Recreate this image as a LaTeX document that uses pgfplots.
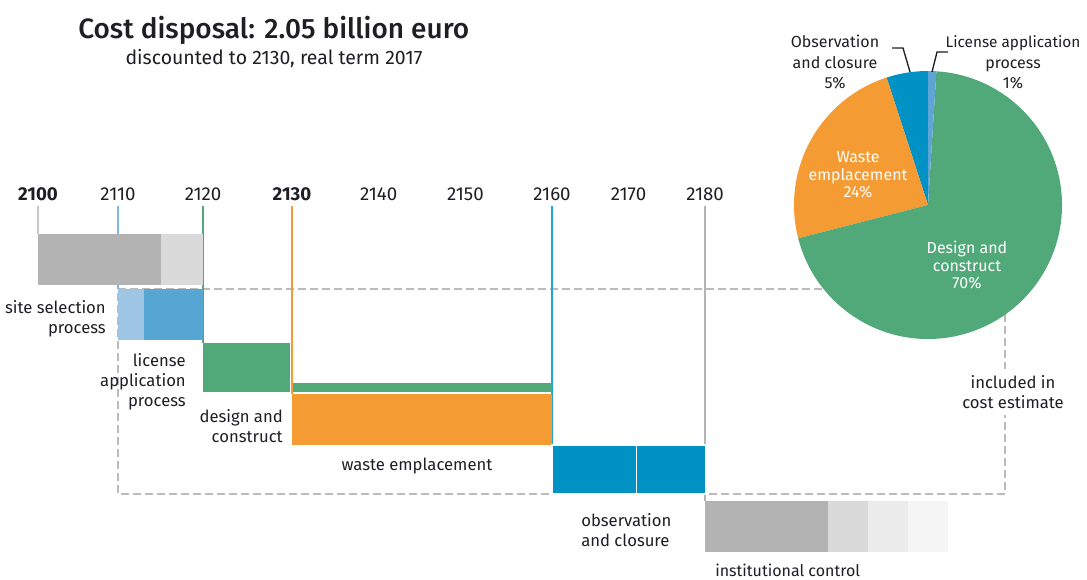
\documentclass[border=0pt]{standalone}
\usepackage{fontspec}
\setmainfont{Fira Sans}
\newfontfamily\titlefont{Fira Sans Medium}
\usepackage{pgfplots}
\pgfplotsset{compat=1.18}
\definecolor{txt}{HTML}{1E1E24}
\definecolor{gdark}{HTML}{B3B3B3}
\definecolor{glight}{HTML}{DADADA}
\definecolor{glighter}{HTML}{ECECEC}
\definecolor{glightest}{HTML}{F5F5F5}
\definecolor{blight}{HTML}{9FC5E4}
\definecolor{bmid}{HTML}{56A6D3}
\definecolor{green}{HTML}{51A878}
\definecolor{orange}{HTML}{F49B34}
\definecolor{bobs}{HTML}{0092C5}
\definecolor{l2100}{HTML}{C8C8C8}
\definecolor{l2110}{HTML}{7CB8DF}
\definecolor{l2160}{HTML}{1FA5D8}
\definecolor{l2180}{HTML}{B4B4B4}
\definecolor{dashc}{HTML}{BBBBBB}
\definecolor{pielic}{HTML}{5EA5D6}
\begin{document}
\begin{tikzpicture}[font=\fontsize{12.5pt}{15pt}\selectfont, text=txt]
\path[use as bounding box] (0,0) rectangle (815.25pt,-434.25pt);
% ---------------- timeline ----------------
% the original time scale is drawn piecewise (decades of unequal length)
\begin{axis}[at={(407.625pt,-217.125pt)}, anchor=center,
  width=815.25pt, height=434.25pt, scale only axis, hide axis, clip=false,
  x coord trafo/.code={\pgfmathparse{#1<=2110 ? 38+(#1-2100)*8 : (#1<=2120 ? 118+(#1-2110)*8.5 : (#1<=2130 ? 203+(#1-2120)*8.9 : (#1<=2160 ? 292+(#1-2130)*8.6667 : 552+(#1-2160)*7.65)))}},
  xmin=2095.25, xmax=2229.93, ymin=0, ymax=579, y dir=reverse]
% frame "included in cost estimate"
\addplot[dashc, line width=1.1pt, dash pattern=on 6pt off 3pt] coordinates {(2110,289) (2219.2,289) (2219.2,494) (2110,494)} -- cycle;
% year lines
\addplot[l2100, line width=1.1pt] coordinates {(2100,206) (2100,234)};
\addplot[l2110, line width=1.1pt] coordinates {(2110,206) (2110,289)};
\addplot[green, line width=1.1pt] coordinates {(2120,206) (2120,343)};
\addplot[l2160, line width=1.1pt] coordinates {(2160,206) (2160,445)};
\addplot[l2180, line width=1.1pt] coordinates {(2180,206) (2180,501)};
% site selection
\addplot[fill=gdark, draw=none] coordinates {(2100,234) (2115,234) (2115,285) (2100,285)} -- cycle;
\addplot[fill=glight, draw=none] coordinates {(2115,234) (2120,234) (2120,285) (2115,285)} -- cycle;
% license application
\addplot[fill=blight, draw=none] coordinates {(2110,289) (2113,289) (2113,340) (2110,340)} -- cycle;
\addplot[fill=bmid, draw=none] coordinates {(2113,289) (2120,289) (2120,340) (2113,340)} -- cycle;
% design and construct
\addplot[fill=green, draw=none] coordinates {(2120,343) (2129.8,343) (2129.8,392) (2120,392)} -- cycle;
\addplot[fill=green, draw=none] coordinates {(2130,383) (2160,383) (2160,392) (2130,392)} -- cycle;
% waste emplacement
\addplot[fill=orange, draw=none] coordinates {(2130,394) (2160,394) (2160,445) (2130,445)} -- cycle;
% 2130 line on top
\addplot[orange, line width=1.1pt] coordinates {(2130,206) (2130,394)};
% observation and closure
\addplot[fill=bobs, draw=white, line width=0.8pt] coordinates {(2160,445) (2171,445) (2171,494) (2160,494)} -- cycle;
\addplot[fill=bobs, draw=white, line width=0.8pt] coordinates {(2171,445) (2180,445) (2180,494) (2171,494)} -- cycle;
% institutional control
\addplot[fill=gdark, draw=none] coordinates {(2180,501) (2196.1,501) (2196.1,552) (2180,552)} -- cycle;
\addplot[fill=glight, draw=none] coordinates {(2196.1,501) (2201.3,501) (2201.3,552) (2196.1,552)} -- cycle;
\addplot[fill=glighter, draw=none] coordinates {(2201.3,501) (2206.5,501) (2206.5,552) (2201.3,552)} -- cycle;
\addplot[fill=glightest, draw=none] coordinates {(2206.5,501) (2211.8,501) (2211.8,552) (2206.5,552)} -- cycle;
% year labels
\begin{scope}[every node/.style={anchor=base, font=\fontsize{14pt}{16pt}\selectfont}]
\node at (axis cs:2100,200) {\bfseries 2100};
\node at (axis cs:2110,200) {2110};
\node at (axis cs:2120,200) {2120};
\node at (axis cs:2130,200) {\bfseries 2130};
\node at (axis cs:2140,200) {2140};
\node at (axis cs:2150,200) {2150};
\node at (axis cs:2160,200) {2160};
\node at (axis cs:2170,200) {2170};
\node at (axis cs:2180,200) {2180};
\end{scope}
\end{axis}
% ---------------- pie ----------------
\begin{axis}[at={(696pt,-153.75pt)}, anchor=center,
  width=201pt, height=201pt, scale only axis, hide axis, clip=false,
  xmin=-1, xmax=1, ymin=-1, ymax=1]
% shares in percent: observation 5, waste 24, design 70, license 1
\fill[bobs] (axis cs:0,0) -- ++(90:100.5pt) arc[start angle=90, end angle={90+5*3.6}, radius=100.5pt] -- cycle;
\fill[orange] (axis cs:0,0) -- ++({90+5*3.6}:100.5pt) arc[start angle={90+5*3.6}, end angle={90+29*3.6}, radius=100.5pt] -- cycle;
\fill[green] (axis cs:0,0) -- ++({90+29*3.6}:100.5pt) arc[start angle={90+29*3.6}, end angle={90+99*3.6}, radius=100.5pt] -- cycle;
\fill[pielic] (axis cs:0,0) -- ++({90+99*3.6}:100.5pt) arc[start angle={90+99*3.6}, end angle={90+100*3.6}, radius=100.5pt] -- cycle;
\end{axis}
% ---------------- texts (pixel coordinates) ----------------
\begin{scope}[x=0.75pt, y=-0.75pt]
\node[anchor=base west, inner sep=0pt, font=\titlefont\fontsize{21pt}{24pt}\selectfont] at (78,38) {Cost disposal: 2.05 billion euro};
\node[anchor=base, inner sep=0pt, font=\fontsize{14.6pt}{16pt}\selectfont] at (274,64) {discounted to 2130, real term 2017};
% timeline labels
\node[anchor=base east, inner sep=0pt] at (106,313) {site selection};
\node[anchor=base east, inner sep=0pt] at (106,333) {process};
\node[anchor=base east, inner sep=0pt] at (186,366) {license};
\node[anchor=base east, inner sep=0pt] at (186,386) {application};
\node[anchor=base east, inner sep=0pt] at (186,406) {process};
\node[anchor=base east, inner sep=0pt] at (283,422) {design and};
\node[anchor=base east, inner sep=0pt] at (283,442) {construct};
\node[anchor=base, inner sep=0pt] at (417,470) {waste emplacement};
\node[anchor=base west, inner sep=0pt] at (581,526) {observation};
\node[anchor=base west, inner sep=0pt] at (581,546) {and closure};
\node[anchor=base west, inner sep=0pt, font=\fontsize{12pt}{14pt}\selectfont] at (715,576) {institutional control};
\node[fill=white, align=center, inner xsep=2pt, inner ysep=5pt] at (1013,392) {included in\\cost estimate};
% pie labels
\draw[txt, line width=1pt] (892,48) -- (903,48) -- (910,72);
\draw[txt, line width=1pt] (948,52) -- (937,52) -- (932,72);
\begin{scope}[every node/.style={anchor=base, inner sep=0pt, font=\fontsize{12pt}{14pt}\selectfont}]
\node at (835,47) {Observation};
\node at (835,68) {and closure};
\node at (835,88) {5\%};
\node[font=\fontsize{11.5pt}{14pt}\selectfont] at (1013,47) {License application};
\node at (1013,68) {process};
\node at (1013,88) {1\%};
\node[text=white] at (858,162) {Waste};
\node[text=white] at (858,180) {emplacement};
\node[text=white] at (858,197) {24\%};
\node[text=white] at (967,253) {Design and};
\node[text=white] at (967,271) {construct};
\node[text=white] at (967,288) {70\%};
\end{scope}
\end{scope}
\end{tikzpicture}
\end{document}
